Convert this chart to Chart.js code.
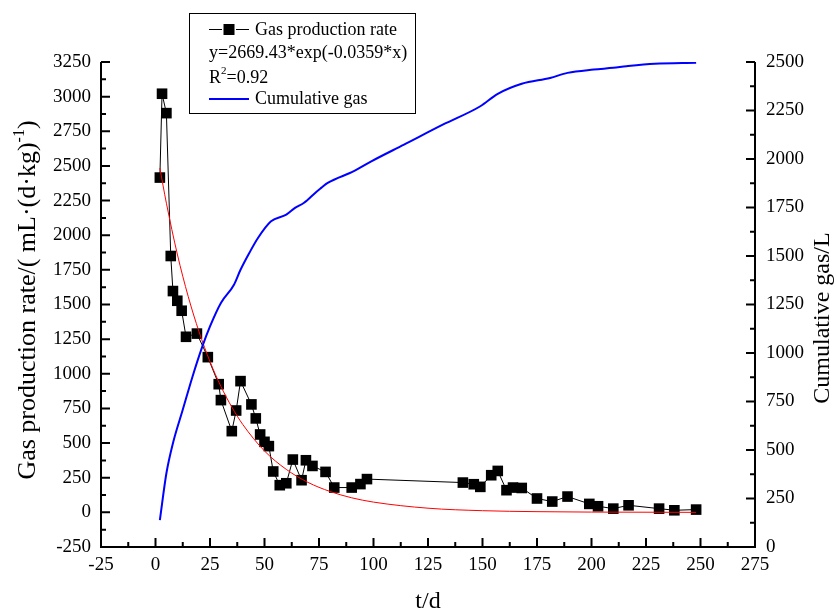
<!DOCTYPE html>
<html>
<head>
<meta charset="utf-8">
<script src="https://cdn.jsdelivr.net/npm/chart.js@4.4.1/dist/chart.umd.min.js"></script>
<style>
  html, body { margin: 0; padding: 0; background: #fff; }
  canvas { display: block; }
</style>
</head>
<body>
<canvas id="chart" width="837" height="612"></canvas>
<script>
// measured gas production rate, mL/(d·kg)
const days = [2, 3, 5, 7, 8, 10, 12, 14, 19, 24, 29, 30, 35, 37, 39, 44, 46, 48, 50, 52,
  54, 57, 60, 63, 67, 69, 72, 78, 82, 90, 94, 97, 141, 146, 149, 154, 157, 161, 164, 168,
  175, 182, 189, 199, 203, 210, 217, 231, 238, 248];
const rate = [2416, 3021, 2881, 1850, 1597, 1527, 1455, 1267, 1290, 1120, 925, 810, 586, 735, 947, 779, 678, 562, 509, 478,
  295, 196, 210, 381, 232, 376, 335, 292, 179, 179, 204, 240, 215, 203, 184, 268, 299, 160, 179, 176,
  100, 78, 114, 61, 44, 27, 51, 27, 15, 20];

// exponential fit curve (red)
const fitDays = [2, 5, 10, 15, 20, 25, 30, 35, 40, 50, 60, 70, 80, 90, 100, 125, 150, 175, 200, 225, 248];
const fitRate = [2484, 2231, 1864, 1558, 1302, 1088, 909, 760, 635, 443, 310, 216, 151, 105, 74, 30, 12, 5, 2, 1, 0];

// cumulative gas, L (right axis)
const cumDays = [2, 5, 8, 12.5, 17, 21.5, 25, 30, 36, 39, 43, 47, 53, 60, 64, 68, 74, 76, 79, 91,
  99, 114, 132, 149, 157, 168, 181, 189, 201, 210, 216, 229, 248];
const cumGas = [139, 380, 535, 707, 879, 1034, 1137, 1258, 1352, 1429, 1515, 1593, 1679, 1713, 1748, 1773, 1833, 1851, 1877, 1937,
  1988, 2074, 2178, 2272, 2336, 2388, 2418, 2444, 2461, 2470, 2478, 2491, 2496];

const xTicks = [-25, 0, 25, 50, 75, 100, 125, 150, 175, 200, 225, 250, 275];
const yTicks = [-250, 0, 250, 500, 750, 1000, 1250, 1500, 1750, 2000, 2250, 2500, 2750, 3000, 3250];
const y1Ticks = [0, 250, 500, 750, 1000, 1250, 1500, 1750, 2000, 2250, 2500];

const FONT = "'Liberation Serif', serif";
Chart.defaults.font.family = FONT;
Chart.defaults.color = '#000';

const pts = (xs, ys) => xs.map((x, i) => ({ x: x, y: ys[i] }));
const setTicks = list => scale => { scale.ticks = list.map(v => ({ value: v })); };
const plain = v => String(v);

// Origin-style axes: plain lines with inward major/minor ticks
const axesPlugin = {
  id: 'originAxes',
  afterDatasetsDraw(chart) {
    const { ctx, chartArea: a, scales } = chart;
    ctx.save();
    ctx.strokeStyle = '#000';
    ctx.lineWidth = 2;
    ctx.beginPath();
    ctx.moveTo(a.left, a.top);
    ctx.lineTo(a.left, a.bottom);
    ctx.lineTo(a.right, a.bottom);
    ctx.lineTo(a.right, a.top);
    ctx.stroke();

    const major = 9, minor = 5;
    ctx.beginPath();
    xTicks.forEach((v, i) => {
      const px = scales.x.getPixelForValue(v);
      ctx.moveTo(px, a.bottom); ctx.lineTo(px, a.bottom - major);
      if (i < xTicks.length - 1) {
        const m = scales.x.getPixelForValue(v + 12.5);
        ctx.moveTo(m, a.bottom); ctx.lineTo(m, a.bottom - minor);
      }
    });
    yTicks.forEach((v, i) => {
      const py = scales.y.getPixelForValue(v);
      ctx.moveTo(a.left, py); ctx.lineTo(a.left + major, py);
      if (i < yTicks.length - 1) {
        const m = scales.y.getPixelForValue(v + 125);
        ctx.moveTo(a.left, m); ctx.lineTo(a.left + minor, m);
      }
    });
    y1Ticks.forEach((v, i) => {
      const py = scales.y1.getPixelForValue(v);
      ctx.moveTo(a.right, py); ctx.lineTo(a.right - major, py);
      if (i < y1Ticks.length - 1) {
        const m = scales.y1.getPixelForValue(v + 125);
        ctx.moveTo(a.right, m); ctx.lineTo(a.right - minor, m);
      }
    });
    ctx.stroke();
    ctx.restore();
  }
};

// axis titles and the boxed legend, drawn by hand for the superscripts
const textPlugin = {
  id: 'titlesLegend',
  afterDraw(chart) {
    const ctx = chart.ctx;
    ctx.save();
    ctx.fillStyle = '#000';

    // left title, reading bottom to top
    const big = '26px ' + FONT, sup = '16px ' + FONT;
    const p1 = 'Gas production rate/( mL\u00b7(d\u00b7kg)', p2 = '-1', p3 = ')';
    ctx.font = big;
    const w1 = ctx.measureText(p1).width, w3 = ctx.measureText(p3).width;
    ctx.font = sup;
    const w2 = ctx.measureText(p2).width;
    ctx.translate(35, 300);
    ctx.rotate(-Math.PI / 2);
    ctx.textBaseline = 'alphabetic';
    ctx.textAlign = 'left';
    let sx = -(w1 + w2 + w3) / 2;
    ctx.font = big; ctx.fillText(p1, sx, 0); sx += w1;
    ctx.font = sup; ctx.fillText(p2, sx, -11); sx += w2;
    ctx.font = big; ctx.fillText(p3, sx, 0);
    ctx.setTransform(1, 0, 0, 1, 0, 0);

    // right title
    ctx.translate(829, 318);
    ctx.rotate(-Math.PI / 2);
    ctx.textAlign = 'center';
    ctx.font = '24px ' + FONT;
    ctx.fillText('Cumulative gas/L', 0, 0);
    ctx.setTransform(1, 0, 0, 1, 0, 0);

    // bottom title
    ctx.fillText('t/d', 428, 608);

    // legend box
    ctx.fillStyle = '#fff';
    ctx.fillRect(189, 13, 226, 100);
    ctx.strokeStyle = '#000';
    ctx.lineWidth = 1;
    ctx.strokeRect(189.5, 13.5, 226, 100);

    ctx.fillStyle = '#000';
    ctx.textAlign = 'left';
    ctx.textBaseline = 'middle';
    ctx.font = '18px ' + FONT;

    ctx.beginPath();
    ctx.moveTo(209, 29.5); ctx.lineTo(222, 29.5);
    ctx.moveTo(236, 29.5); ctx.lineTo(249, 29.5);
    ctx.stroke();
    ctx.fillRect(223.5, 24, 11, 11);
    ctx.fillText('Gas production rate', 255, 30);

    ctx.fillText('y=2669.43*exp(-0.0359*x)', 209, 53);

    ctx.fillText('R', 209, 78);
    const rw = ctx.measureText('R').width;
    ctx.font = '11px ' + FONT;
    ctx.fillText('2', 209 + rw, 71);
    const sw = ctx.measureText('2').width;
    ctx.font = '18px ' + FONT;
    ctx.fillText('=0.92', 209 + rw + sw, 78);

    ctx.strokeStyle = '#0000ff';
    ctx.lineWidth = 2;
    ctx.beginPath();
    ctx.moveTo(209, 99); ctx.lineTo(249, 99);
    ctx.stroke();
    ctx.fillText('Cumulative gas', 255, 99);
    ctx.restore();
  }
};

const tickFont = { family: "'Liberation Serif', serif", size: 19 };

new Chart(document.getElementById('chart'), {
  type: 'scatter',
  data: {
    datasets: [
      {
        label: 'Gas production rate',
        data: pts(days, rate),
        yAxisID: 'y',
        showLine: true,
        borderColor: '#000',
        borderWidth: 1,
        backgroundColor: '#000',
        pointStyle: 'rect',
        pointRadius: 7.5,
        pointBorderWidth: 0,
        order: 3
      },
      {
        label: 'fit',
        data: pts(fitDays, fitRate),
        yAxisID: 'y',
        showLine: true,
        borderColor: '#ff0000',
        borderWidth: 1,
        pointRadius: 0,
        cubicInterpolationMode: 'monotone',
        order: 2
      },
      {
        label: 'Cumulative gas',
        data: pts(cumDays, cumGas),
        yAxisID: 'y1',
        showLine: true,
        borderColor: '#0000ff',
        borderWidth: 2,
        pointRadius: 0,
        cubicInterpolationMode: 'monotone',
        order: 1
      }
    ]
  },
  options: {
    responsive: false,
    devicePixelRatio: 1,
    animation: false,
    layout: { padding: { top: 62, left: 0, right: 0, bottom: 0 } },
    plugins: {
      legend: { display: false },
      tooltip: { enabled: false }
    },
    scales: {
      x: {
        type: 'linear',
        position: 'bottom',
        min: -25,
        max: 275,
        afterBuildTicks: setTicks(xTicks),
        afterFit: s => { s.height = 65; },
        grid: { display: false, drawTicks: false },
        border: { display: false },
        ticks: { font: tickFont, color: '#000', padding: 7, maxRotation: 0, autoSkip: false, callback: plain }
      },
      y: {
        position: 'left',
        min: -250,
        max: 3250,
        afterBuildTicks: setTicks(yTicks),
        afterFit: s => { s.width = 101; },
        grid: { display: false, drawTicks: false },
        border: { display: false },
        ticks: { font: tickFont, color: '#000', padding: 10, autoSkip: false, callback: plain }
      },
      y1: {
        position: 'right',
        min: 0,
        max: 2500,
        afterBuildTicks: setTicks(y1Ticks),
        afterFit: s => { s.width = 82; },
        grid: { display: false, drawTicks: false },
        border: { display: false },
        ticks: { font: tickFont, color: '#000', padding: 11, autoSkip: false, callback: plain }
      }
    }
  },
  plugins: [axesPlugin, textPlugin]
});
</script>
</body>
</html>
